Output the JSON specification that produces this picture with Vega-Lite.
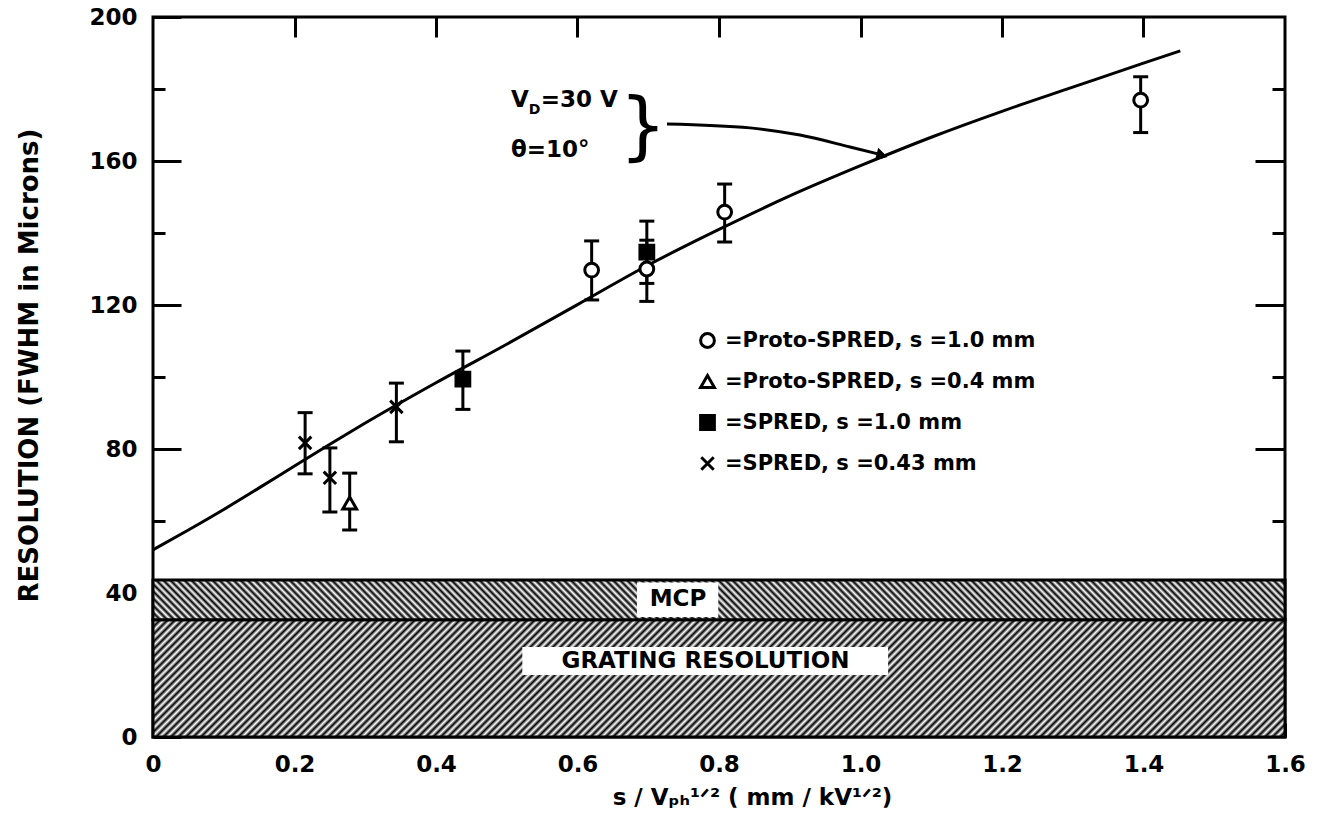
{
"$schema":"https://vega.github.io/schema/vega-lite/v6.json",
"width":1132,"height":720,
"autosize":{"type":"none"},
"padding":{"left":153,"top":17,"right":36,"bottom":94},
"background":"white",
"config":{
"view":{"stroke":"black","strokeWidth":3},
"font":"DejaVu Sans",
"axis":{"domain":false,"grid":false,"tickColor":"black","tickWidth":3,"labelFont":"DejaVu Sans","labelFontSize":23,"labelFontWeight":"bold","labelColor":"black","titleFont":"DejaVu Sans","titleFontWeight":"bold","titleColor":"black","titleFontSize":23,"labelFlush":false,"labelOverlap":false}
},
"datasets":{
"bands":[{"band":"GRATING RESOLUTION","lo":0,"hi":32.6},{"band":"MCP","lo":32.6,"hi":43.6}],
"labels":[{"label":"MCP","x":0.742,"y":38.2,"xa":0.684,"xb":0.799,"ya":33.3,"yb":42.9},{"label":"GRATING RESOLUTION","x":0.781,"y":21.1,"xa":0.522,"xb":1.039,"ya":17.2,"yb":25}],
"curve":[{"x":0,"y":52},{"x":0.05,"y":57.5},{"x":0.1,"y":63.2},{"x":0.15,"y":69.2},{"x":0.2,"y":75.3},{"x":0.25,"y":81.3},{"x":0.3,"y":87.2},{"x":0.4,"y":98.4},{"x":0.5,"y":109.1},{"x":0.6,"y":120.1},{"x":0.7,"y":131.1},{"x":0.8,"y":141},{"x":0.9,"y":150.3},{"x":1.0,"y":158.7},{"x":1.1,"y":166.6},{"x":1.2,"y":173.8},{"x":1.3,"y":180.5},{"x":1.4,"y":187.2},{"x":1.452,"y":190.6}],
"points":[
{"series":"Proto-SPRED, s =1.0 mm","x":0.62,"y":129.7,"lo":121.4,"hi":137.8},
{"series":"Proto-SPRED, s =1.0 mm","x":0.698,"y":130.0,"lo":121.0,"hi":138.0},
{"series":"Proto-SPRED, s =1.0 mm","x":0.808,"y":145.8,"lo":137.5,"hi":153.6},
{"series":"Proto-SPRED, s =1.0 mm","x":1.396,"y":176.9,"lo":167.9,"hi":183.4},
{"series":"Proto-SPRED, s =0.4 mm","x":0.278,"y":65.0,"lo":57.5,"hi":73.3},
{"series":"SPRED, s =1.0 mm","x":0.438,"y":99.4,"lo":91.0,"hi":107.2},
{"series":"SPRED, s =1.0 mm","x":0.698,"y":134.7,"lo":126.0,"hi":143.3},
{"series":"SPRED, s =0.43 mm","x":0.215,"y":81.7,"lo":73.1,"hi":90.1},
{"series":"SPRED, s =0.43 mm","x":0.25,"y":72.0,"lo":62.5,"hi":80.3},
{"series":"SPRED, s =0.43 mm","x":0.344,"y":91.7,"lo":82.0,"hi":98.3}],
"arrow":[{"x":0.7265,"y":170.3},{"x":0.8438,"y":169.2},{"x":0.9145,"y":167.2},{"x":0.9852,"y":163.9},{"x":1.026,"y":161.9}],
"arrowhead":[{"x":1.0304,"y":161.5}],
"notes":[{"role":"main","text":"V","x":0.506,"y":176.9},{"role":"sub","text":"D","x":0.531,"y":174.2},{"role":"main","text":"=30 V","x":0.548,"y":176.9},{"role":"main","text":"θ=10°","x":0.506,"y":163.1},{"role":"brace","text":"}","x":0.6926,"y":169}]
},
"resolve":{"axis":{"x":"independent","y":"independent"}},
"layer":[
{"data":{"name":"bands"},"transform":[{"filter":"datum.band === 'GRATING RESOLUTION'"}],
"mark":{"type":"rect","stroke":"black","strokeWidth":3,"fill":{"gradient":"linear","x1":0,"y1":0,"x2":1.0917,"y2":0.1129,"stops":[
{"offset":0.000,"color":"#000"},{"offset":0.003,"color":"#fff"},{"offset":0.006,"color":"#000"},{"offset":0.009,"color":"#fff"},{"offset":0.012,"color":"#000"},{"offset":0.015,"color":"#fff"},{"offset":0.018,"color":"#000"},{"offset":0.021,"color":"#fff"},{"offset":0.024,"color":"#000"},{"offset":0.027,"color":"#fff"},
{"offset":0.030,"color":"#000"},{"offset":0.033,"color":"#fff"},{"offset":0.036,"color":"#000"},{"offset":0.039,"color":"#fff"},{"offset":0.042,"color":"#000"},{"offset":0.045,"color":"#fff"},{"offset":0.048,"color":"#000"},{"offset":0.051,"color":"#fff"},{"offset":0.054,"color":"#000"},{"offset":0.057,"color":"#fff"},
{"offset":0.060,"color":"#000"},{"offset":0.063,"color":"#fff"},{"offset":0.066,"color":"#000"},{"offset":0.069,"color":"#fff"},{"offset":0.072,"color":"#000"},{"offset":0.075,"color":"#fff"},{"offset":0.078,"color":"#000"},{"offset":0.081,"color":"#fff"},{"offset":0.084,"color":"#000"},{"offset":0.087,"color":"#fff"},
{"offset":0.090,"color":"#000"},{"offset":0.093,"color":"#fff"},{"offset":0.096,"color":"#000"},{"offset":0.099,"color":"#fff"},{"offset":0.102,"color":"#000"},{"offset":0.105,"color":"#fff"},{"offset":0.108,"color":"#000"},{"offset":0.111,"color":"#fff"},{"offset":0.114,"color":"#000"},{"offset":0.117,"color":"#fff"},
{"offset":0.120,"color":"#000"},{"offset":0.123,"color":"#fff"},{"offset":0.126,"color":"#000"},{"offset":0.129,"color":"#fff"},{"offset":0.132,"color":"#000"},{"offset":0.135,"color":"#fff"},{"offset":0.138,"color":"#000"},{"offset":0.141,"color":"#fff"},{"offset":0.144,"color":"#000"},{"offset":0.147,"color":"#fff"},
{"offset":0.150,"color":"#000"},{"offset":0.153,"color":"#fff"},{"offset":0.156,"color":"#000"},{"offset":0.159,"color":"#fff"},{"offset":0.162,"color":"#000"},{"offset":0.165,"color":"#fff"},{"offset":0.168,"color":"#000"},{"offset":0.171,"color":"#fff"},{"offset":0.174,"color":"#000"},{"offset":0.177,"color":"#fff"},
{"offset":0.180,"color":"#000"},{"offset":0.183,"color":"#fff"},{"offset":0.186,"color":"#000"},{"offset":0.189,"color":"#fff"},{"offset":0.192,"color":"#000"},{"offset":0.195,"color":"#fff"},{"offset":0.198,"color":"#000"},{"offset":0.201,"color":"#fff"},{"offset":0.204,"color":"#000"},{"offset":0.207,"color":"#fff"},
{"offset":0.210,"color":"#000"},{"offset":0.213,"color":"#fff"},{"offset":0.216,"color":"#000"},{"offset":0.219,"color":"#fff"},{"offset":0.222,"color":"#000"},{"offset":0.225,"color":"#fff"},{"offset":0.228,"color":"#000"},{"offset":0.231,"color":"#fff"},{"offset":0.234,"color":"#000"},{"offset":0.237,"color":"#fff"},
{"offset":0.240,"color":"#000"},{"offset":0.243,"color":"#fff"},{"offset":0.246,"color":"#000"},{"offset":0.249,"color":"#fff"},{"offset":0.252,"color":"#000"},{"offset":0.255,"color":"#fff"},{"offset":0.258,"color":"#000"},{"offset":0.261,"color":"#fff"},{"offset":0.264,"color":"#000"},{"offset":0.267,"color":"#fff"},
{"offset":0.270,"color":"#000"},{"offset":0.273,"color":"#fff"},{"offset":0.276,"color":"#000"},{"offset":0.279,"color":"#fff"},{"offset":0.282,"color":"#000"},{"offset":0.285,"color":"#fff"},{"offset":0.288,"color":"#000"},{"offset":0.291,"color":"#fff"},{"offset":0.294,"color":"#000"},{"offset":0.297,"color":"#fff"},
{"offset":0.300,"color":"#000"},{"offset":0.303,"color":"#fff"},{"offset":0.306,"color":"#000"},{"offset":0.309,"color":"#fff"},{"offset":0.312,"color":"#000"},{"offset":0.315,"color":"#fff"},{"offset":0.318,"color":"#000"},{"offset":0.321,"color":"#fff"},{"offset":0.324,"color":"#000"},{"offset":0.327,"color":"#fff"},
{"offset":0.330,"color":"#000"},{"offset":0.333,"color":"#fff"},{"offset":0.336,"color":"#000"},{"offset":0.339,"color":"#fff"},{"offset":0.342,"color":"#000"},{"offset":0.345,"color":"#fff"},{"offset":0.348,"color":"#000"},{"offset":0.351,"color":"#fff"},{"offset":0.354,"color":"#000"},{"offset":0.357,"color":"#fff"},
{"offset":0.360,"color":"#000"},{"offset":0.363,"color":"#fff"},{"offset":0.366,"color":"#000"},{"offset":0.369,"color":"#fff"},{"offset":0.372,"color":"#000"},{"offset":0.375,"color":"#fff"},{"offset":0.378,"color":"#000"},{"offset":0.381,"color":"#fff"},{"offset":0.384,"color":"#000"},{"offset":0.387,"color":"#fff"},
{"offset":0.390,"color":"#000"},{"offset":0.393,"color":"#fff"},{"offset":0.396,"color":"#000"},{"offset":0.399,"color":"#fff"},{"offset":0.402,"color":"#000"},{"offset":0.405,"color":"#fff"},{"offset":0.408,"color":"#000"},{"offset":0.411,"color":"#fff"},{"offset":0.414,"color":"#000"},{"offset":0.417,"color":"#fff"},
{"offset":0.420,"color":"#000"},{"offset":0.423,"color":"#fff"},{"offset":0.426,"color":"#000"},{"offset":0.429,"color":"#fff"},{"offset":0.432,"color":"#000"},{"offset":0.435,"color":"#fff"},{"offset":0.438,"color":"#000"},{"offset":0.441,"color":"#fff"},{"offset":0.444,"color":"#000"},{"offset":0.447,"color":"#fff"},
{"offset":0.450,"color":"#000"},{"offset":0.453,"color":"#fff"},{"offset":0.456,"color":"#000"},{"offset":0.459,"color":"#fff"},{"offset":0.462,"color":"#000"},{"offset":0.465,"color":"#fff"},{"offset":0.468,"color":"#000"},{"offset":0.471,"color":"#fff"},{"offset":0.474,"color":"#000"},{"offset":0.477,"color":"#fff"},
{"offset":0.480,"color":"#000"},{"offset":0.483,"color":"#fff"},{"offset":0.486,"color":"#000"},{"offset":0.489,"color":"#fff"},{"offset":0.492,"color":"#000"},{"offset":0.495,"color":"#fff"},{"offset":0.498,"color":"#000"},{"offset":0.501,"color":"#fff"},{"offset":0.504,"color":"#000"},{"offset":0.507,"color":"#fff"},
{"offset":0.510,"color":"#000"},{"offset":0.513,"color":"#fff"},{"offset":0.516,"color":"#000"},{"offset":0.519,"color":"#fff"},{"offset":0.522,"color":"#000"},{"offset":0.525,"color":"#fff"},{"offset":0.528,"color":"#000"},{"offset":0.531,"color":"#fff"},{"offset":0.534,"color":"#000"},{"offset":0.537,"color":"#fff"},
{"offset":0.540,"color":"#000"},{"offset":0.543,"color":"#fff"},{"offset":0.546,"color":"#000"},{"offset":0.549,"color":"#fff"},{"offset":0.552,"color":"#000"},{"offset":0.555,"color":"#fff"},{"offset":0.558,"color":"#000"},{"offset":0.561,"color":"#fff"},{"offset":0.564,"color":"#000"},{"offset":0.567,"color":"#fff"},
{"offset":0.570,"color":"#000"},{"offset":0.573,"color":"#fff"},{"offset":0.576,"color":"#000"},{"offset":0.579,"color":"#fff"},{"offset":0.582,"color":"#000"},{"offset":0.585,"color":"#fff"},{"offset":0.588,"color":"#000"},{"offset":0.591,"color":"#fff"},{"offset":0.594,"color":"#000"},{"offset":0.597,"color":"#fff"},
{"offset":0.600,"color":"#000"},{"offset":0.603,"color":"#fff"},{"offset":0.606,"color":"#000"},{"offset":0.609,"color":"#fff"},{"offset":0.612,"color":"#000"},{"offset":0.615,"color":"#fff"},{"offset":0.618,"color":"#000"},{"offset":0.621,"color":"#fff"},{"offset":0.624,"color":"#000"},{"offset":0.627,"color":"#fff"},
{"offset":0.630,"color":"#000"},{"offset":0.633,"color":"#fff"},{"offset":0.636,"color":"#000"},{"offset":0.639,"color":"#fff"},{"offset":0.642,"color":"#000"},{"offset":0.645,"color":"#fff"},{"offset":0.648,"color":"#000"},{"offset":0.651,"color":"#fff"},{"offset":0.654,"color":"#000"},{"offset":0.657,"color":"#fff"},
{"offset":0.660,"color":"#000"},{"offset":0.663,"color":"#fff"},{"offset":0.666,"color":"#000"},{"offset":0.669,"color":"#fff"},{"offset":0.672,"color":"#000"},{"offset":0.675,"color":"#fff"},{"offset":0.678,"color":"#000"},{"offset":0.681,"color":"#fff"},{"offset":0.684,"color":"#000"},{"offset":0.687,"color":"#fff"},
{"offset":0.690,"color":"#000"},{"offset":0.693,"color":"#fff"},{"offset":0.696,"color":"#000"},{"offset":0.699,"color":"#fff"},{"offset":0.702,"color":"#000"},{"offset":0.705,"color":"#fff"},{"offset":0.708,"color":"#000"},{"offset":0.711,"color":"#fff"},{"offset":0.714,"color":"#000"},{"offset":0.717,"color":"#fff"},
{"offset":0.720,"color":"#000"},{"offset":0.723,"color":"#fff"},{"offset":0.726,"color":"#000"},{"offset":0.729,"color":"#fff"},{"offset":0.732,"color":"#000"},{"offset":0.735,"color":"#fff"},{"offset":0.738,"color":"#000"},{"offset":0.741,"color":"#fff"},{"offset":0.744,"color":"#000"},{"offset":0.747,"color":"#fff"},
{"offset":0.750,"color":"#000"},{"offset":0.753,"color":"#fff"},{"offset":0.756,"color":"#000"},{"offset":0.759,"color":"#fff"},{"offset":0.762,"color":"#000"},{"offset":0.765,"color":"#fff"},{"offset":0.768,"color":"#000"},{"offset":0.771,"color":"#fff"},{"offset":0.774,"color":"#000"},{"offset":0.777,"color":"#fff"},
{"offset":0.780,"color":"#000"},{"offset":0.783,"color":"#fff"},{"offset":0.786,"color":"#000"},{"offset":0.789,"color":"#fff"},{"offset":0.792,"color":"#000"},{"offset":0.795,"color":"#fff"},{"offset":0.798,"color":"#000"},{"offset":0.801,"color":"#fff"},{"offset":0.804,"color":"#000"},{"offset":0.807,"color":"#fff"},
{"offset":0.810,"color":"#000"},{"offset":0.813,"color":"#fff"},{"offset":0.816,"color":"#000"},{"offset":0.819,"color":"#fff"},{"offset":0.822,"color":"#000"},{"offset":0.825,"color":"#fff"},{"offset":0.828,"color":"#000"},{"offset":0.831,"color":"#fff"},{"offset":0.834,"color":"#000"},{"offset":0.837,"color":"#fff"},
{"offset":0.840,"color":"#000"},{"offset":0.843,"color":"#fff"},{"offset":0.846,"color":"#000"},{"offset":0.849,"color":"#fff"},{"offset":0.852,"color":"#000"},{"offset":0.855,"color":"#fff"},{"offset":0.858,"color":"#000"},{"offset":0.861,"color":"#fff"},{"offset":0.864,"color":"#000"},{"offset":0.867,"color":"#fff"},
{"offset":0.870,"color":"#000"},{"offset":0.873,"color":"#fff"},{"offset":0.876,"color":"#000"},{"offset":0.879,"color":"#fff"},{"offset":0.882,"color":"#000"},{"offset":0.885,"color":"#fff"},{"offset":0.888,"color":"#000"},{"offset":0.891,"color":"#fff"},{"offset":0.894,"color":"#000"},{"offset":0.897,"color":"#fff"},
{"offset":0.900,"color":"#000"},{"offset":0.903,"color":"#fff"},{"offset":0.906,"color":"#000"},{"offset":0.909,"color":"#fff"},{"offset":0.912,"color":"#000"},{"offset":0.915,"color":"#fff"},{"offset":0.918,"color":"#000"},{"offset":0.921,"color":"#fff"},{"offset":0.924,"color":"#000"},{"offset":0.927,"color":"#fff"},
{"offset":0.930,"color":"#000"},{"offset":0.933,"color":"#fff"},{"offset":0.936,"color":"#000"},{"offset":0.939,"color":"#fff"},{"offset":0.942,"color":"#000"},{"offset":0.945,"color":"#fff"},{"offset":0.948,"color":"#000"},{"offset":0.951,"color":"#fff"},{"offset":0.954,"color":"#000"},{"offset":0.957,"color":"#fff"},
{"offset":0.960,"color":"#000"},{"offset":0.963,"color":"#fff"},{"offset":0.966,"color":"#000"},{"offset":0.969,"color":"#fff"},{"offset":0.972,"color":"#000"},{"offset":0.975,"color":"#fff"},{"offset":0.978,"color":"#000"},{"offset":0.981,"color":"#fff"},{"offset":0.984,"color":"#000"},{"offset":0.987,"color":"#fff"},
{"offset":0.990,"color":"#000"},{"offset":0.993,"color":"#fff"},{"offset":0.996,"color":"#000"},{"offset":0.999,"color":"#fff"}]}},
"encoding":{
"x":{"datum":0,"type":"quantitative","scale":{"domain":[0,1.6],"nice":false,"zero":false},"axis":{"orient":"bottom","values":[0,0.2,0.4,0.6,0.8,1.0,1.2,1.4,1.6],"offset":-14,"tickSize":14,"labelPadding":16,"labelExpr":"datum.value === 0 ? '0' : format(datum.value, '.1f')","title":"s / Vₚₕ¹ᐟ² ( mm / kV¹ᐟ²)","titleX":599,"titleY":74,"titleBaseline":"middle","titleAnchor":"middle","titleAlign":"center"}},
"x2":{"datum":1.6},
"y":{"field":"lo","type":"quantitative","scale":{"domain":[0,200],"nice":false,"zero":false},"axis":{"orient":"left","values":[0,40,80,120,160,200],"offset":-28,"tickSize":28,"labelPadding":16,"title":"RESOLUTION (FWHM in Microns)","titleX":-152,"titleY":348,"titleBaseline":"middle","titleAngle":-90,"titleAlign":"center","titleFontSize":26}},
"y2":{"field":"hi"}}},
{"data":{"name":"bands"},"transform":[{"filter":"datum.band === 'MCP'"}],
"mark":{"type":"rect","stroke":"black","strokeWidth":3,"fill":{"gradient":"linear","x1":0,"y1":1,"x2":1.0333,"y2":0.9644,"stops":[
{"offset":0.000,"color":"#000"},{"offset":0.003,"color":"#fff"},{"offset":0.006,"color":"#000"},{"offset":0.009,"color":"#fff"},{"offset":0.012,"color":"#000"},{"offset":0.015,"color":"#fff"},{"offset":0.018,"color":"#000"},{"offset":0.021,"color":"#fff"},{"offset":0.024,"color":"#000"},{"offset":0.027,"color":"#fff"},
{"offset":0.030,"color":"#000"},{"offset":0.033,"color":"#fff"},{"offset":0.036,"color":"#000"},{"offset":0.039,"color":"#fff"},{"offset":0.042,"color":"#000"},{"offset":0.045,"color":"#fff"},{"offset":0.048,"color":"#000"},{"offset":0.051,"color":"#fff"},{"offset":0.054,"color":"#000"},{"offset":0.057,"color":"#fff"},
{"offset":0.060,"color":"#000"},{"offset":0.063,"color":"#fff"},{"offset":0.066,"color":"#000"},{"offset":0.069,"color":"#fff"},{"offset":0.072,"color":"#000"},{"offset":0.075,"color":"#fff"},{"offset":0.078,"color":"#000"},{"offset":0.081,"color":"#fff"},{"offset":0.084,"color":"#000"},{"offset":0.087,"color":"#fff"},
{"offset":0.090,"color":"#000"},{"offset":0.093,"color":"#fff"},{"offset":0.096,"color":"#000"},{"offset":0.099,"color":"#fff"},{"offset":0.102,"color":"#000"},{"offset":0.105,"color":"#fff"},{"offset":0.108,"color":"#000"},{"offset":0.111,"color":"#fff"},{"offset":0.114,"color":"#000"},{"offset":0.117,"color":"#fff"},
{"offset":0.120,"color":"#000"},{"offset":0.123,"color":"#fff"},{"offset":0.126,"color":"#000"},{"offset":0.129,"color":"#fff"},{"offset":0.132,"color":"#000"},{"offset":0.135,"color":"#fff"},{"offset":0.138,"color":"#000"},{"offset":0.141,"color":"#fff"},{"offset":0.144,"color":"#000"},{"offset":0.147,"color":"#fff"},
{"offset":0.150,"color":"#000"},{"offset":0.153,"color":"#fff"},{"offset":0.156,"color":"#000"},{"offset":0.159,"color":"#fff"},{"offset":0.162,"color":"#000"},{"offset":0.165,"color":"#fff"},{"offset":0.168,"color":"#000"},{"offset":0.171,"color":"#fff"},{"offset":0.174,"color":"#000"},{"offset":0.177,"color":"#fff"},
{"offset":0.180,"color":"#000"},{"offset":0.183,"color":"#fff"},{"offset":0.186,"color":"#000"},{"offset":0.189,"color":"#fff"},{"offset":0.192,"color":"#000"},{"offset":0.195,"color":"#fff"},{"offset":0.198,"color":"#000"},{"offset":0.201,"color":"#fff"},{"offset":0.204,"color":"#000"},{"offset":0.207,"color":"#fff"},
{"offset":0.210,"color":"#000"},{"offset":0.213,"color":"#fff"},{"offset":0.216,"color":"#000"},{"offset":0.219,"color":"#fff"},{"offset":0.222,"color":"#000"},{"offset":0.225,"color":"#fff"},{"offset":0.228,"color":"#000"},{"offset":0.231,"color":"#fff"},{"offset":0.234,"color":"#000"},{"offset":0.237,"color":"#fff"},
{"offset":0.240,"color":"#000"},{"offset":0.243,"color":"#fff"},{"offset":0.246,"color":"#000"},{"offset":0.249,"color":"#fff"},{"offset":0.252,"color":"#000"},{"offset":0.255,"color":"#fff"},{"offset":0.258,"color":"#000"},{"offset":0.261,"color":"#fff"},{"offset":0.264,"color":"#000"},{"offset":0.267,"color":"#fff"},
{"offset":0.270,"color":"#000"},{"offset":0.273,"color":"#fff"},{"offset":0.276,"color":"#000"},{"offset":0.279,"color":"#fff"},{"offset":0.282,"color":"#000"},{"offset":0.285,"color":"#fff"},{"offset":0.288,"color":"#000"},{"offset":0.291,"color":"#fff"},{"offset":0.294,"color":"#000"},{"offset":0.297,"color":"#fff"},
{"offset":0.300,"color":"#000"},{"offset":0.303,"color":"#fff"},{"offset":0.306,"color":"#000"},{"offset":0.309,"color":"#fff"},{"offset":0.312,"color":"#000"},{"offset":0.315,"color":"#fff"},{"offset":0.318,"color":"#000"},{"offset":0.321,"color":"#fff"},{"offset":0.324,"color":"#000"},{"offset":0.327,"color":"#fff"},
{"offset":0.330,"color":"#000"},{"offset":0.333,"color":"#fff"},{"offset":0.336,"color":"#000"},{"offset":0.339,"color":"#fff"},{"offset":0.342,"color":"#000"},{"offset":0.345,"color":"#fff"},{"offset":0.348,"color":"#000"},{"offset":0.351,"color":"#fff"},{"offset":0.354,"color":"#000"},{"offset":0.357,"color":"#fff"},
{"offset":0.360,"color":"#000"},{"offset":0.363,"color":"#fff"},{"offset":0.366,"color":"#000"},{"offset":0.369,"color":"#fff"},{"offset":0.372,"color":"#000"},{"offset":0.375,"color":"#fff"},{"offset":0.378,"color":"#000"},{"offset":0.381,"color":"#fff"},{"offset":0.384,"color":"#000"},{"offset":0.387,"color":"#fff"},
{"offset":0.390,"color":"#000"},{"offset":0.393,"color":"#fff"},{"offset":0.396,"color":"#000"},{"offset":0.399,"color":"#fff"},{"offset":0.402,"color":"#000"},{"offset":0.405,"color":"#fff"},{"offset":0.408,"color":"#000"},{"offset":0.411,"color":"#fff"},{"offset":0.414,"color":"#000"},{"offset":0.417,"color":"#fff"},
{"offset":0.420,"color":"#000"},{"offset":0.423,"color":"#fff"},{"offset":0.426,"color":"#000"},{"offset":0.429,"color":"#fff"},{"offset":0.432,"color":"#000"},{"offset":0.435,"color":"#fff"},{"offset":0.438,"color":"#000"},{"offset":0.441,"color":"#fff"},{"offset":0.444,"color":"#000"},{"offset":0.447,"color":"#fff"},
{"offset":0.450,"color":"#000"},{"offset":0.453,"color":"#fff"},{"offset":0.456,"color":"#000"},{"offset":0.459,"color":"#fff"},{"offset":0.462,"color":"#000"},{"offset":0.465,"color":"#fff"},{"offset":0.468,"color":"#000"},{"offset":0.471,"color":"#fff"},{"offset":0.474,"color":"#000"},{"offset":0.477,"color":"#fff"},
{"offset":0.480,"color":"#000"},{"offset":0.483,"color":"#fff"},{"offset":0.486,"color":"#000"},{"offset":0.489,"color":"#fff"},{"offset":0.492,"color":"#000"},{"offset":0.495,"color":"#fff"},{"offset":0.498,"color":"#000"},{"offset":0.501,"color":"#fff"},{"offset":0.504,"color":"#000"},{"offset":0.507,"color":"#fff"},
{"offset":0.510,"color":"#000"},{"offset":0.513,"color":"#fff"},{"offset":0.516,"color":"#000"},{"offset":0.519,"color":"#fff"},{"offset":0.522,"color":"#000"},{"offset":0.525,"color":"#fff"},{"offset":0.528,"color":"#000"},{"offset":0.531,"color":"#fff"},{"offset":0.534,"color":"#000"},{"offset":0.537,"color":"#fff"},
{"offset":0.540,"color":"#000"},{"offset":0.543,"color":"#fff"},{"offset":0.546,"color":"#000"},{"offset":0.549,"color":"#fff"},{"offset":0.552,"color":"#000"},{"offset":0.555,"color":"#fff"},{"offset":0.558,"color":"#000"},{"offset":0.561,"color":"#fff"},{"offset":0.564,"color":"#000"},{"offset":0.567,"color":"#fff"},
{"offset":0.570,"color":"#000"},{"offset":0.573,"color":"#fff"},{"offset":0.576,"color":"#000"},{"offset":0.579,"color":"#fff"},{"offset":0.582,"color":"#000"},{"offset":0.585,"color":"#fff"},{"offset":0.588,"color":"#000"},{"offset":0.591,"color":"#fff"},{"offset":0.594,"color":"#000"},{"offset":0.597,"color":"#fff"},
{"offset":0.600,"color":"#000"},{"offset":0.603,"color":"#fff"},{"offset":0.606,"color":"#000"},{"offset":0.609,"color":"#fff"},{"offset":0.612,"color":"#000"},{"offset":0.615,"color":"#fff"},{"offset":0.618,"color":"#000"},{"offset":0.621,"color":"#fff"},{"offset":0.624,"color":"#000"},{"offset":0.627,"color":"#fff"},
{"offset":0.630,"color":"#000"},{"offset":0.633,"color":"#fff"},{"offset":0.636,"color":"#000"},{"offset":0.639,"color":"#fff"},{"offset":0.642,"color":"#000"},{"offset":0.645,"color":"#fff"},{"offset":0.648,"color":"#000"},{"offset":0.651,"color":"#fff"},{"offset":0.654,"color":"#000"},{"offset":0.657,"color":"#fff"},
{"offset":0.660,"color":"#000"},{"offset":0.663,"color":"#fff"},{"offset":0.666,"color":"#000"},{"offset":0.669,"color":"#fff"},{"offset":0.672,"color":"#000"},{"offset":0.675,"color":"#fff"},{"offset":0.678,"color":"#000"},{"offset":0.681,"color":"#fff"},{"offset":0.684,"color":"#000"},{"offset":0.687,"color":"#fff"},
{"offset":0.690,"color":"#000"},{"offset":0.693,"color":"#fff"},{"offset":0.696,"color":"#000"},{"offset":0.699,"color":"#fff"},{"offset":0.702,"color":"#000"},{"offset":0.705,"color":"#fff"},{"offset":0.708,"color":"#000"},{"offset":0.711,"color":"#fff"},{"offset":0.714,"color":"#000"},{"offset":0.717,"color":"#fff"},
{"offset":0.720,"color":"#000"},{"offset":0.723,"color":"#fff"},{"offset":0.726,"color":"#000"},{"offset":0.729,"color":"#fff"},{"offset":0.732,"color":"#000"},{"offset":0.735,"color":"#fff"},{"offset":0.738,"color":"#000"},{"offset":0.741,"color":"#fff"},{"offset":0.744,"color":"#000"},{"offset":0.747,"color":"#fff"},
{"offset":0.750,"color":"#000"},{"offset":0.753,"color":"#fff"},{"offset":0.756,"color":"#000"},{"offset":0.759,"color":"#fff"},{"offset":0.762,"color":"#000"},{"offset":0.765,"color":"#fff"},{"offset":0.768,"color":"#000"},{"offset":0.771,"color":"#fff"},{"offset":0.774,"color":"#000"},{"offset":0.777,"color":"#fff"},
{"offset":0.780,"color":"#000"},{"offset":0.783,"color":"#fff"},{"offset":0.786,"color":"#000"},{"offset":0.789,"color":"#fff"},{"offset":0.792,"color":"#000"},{"offset":0.795,"color":"#fff"},{"offset":0.798,"color":"#000"},{"offset":0.801,"color":"#fff"},{"offset":0.804,"color":"#000"},{"offset":0.807,"color":"#fff"},
{"offset":0.810,"color":"#000"},{"offset":0.813,"color":"#fff"},{"offset":0.816,"color":"#000"},{"offset":0.819,"color":"#fff"},{"offset":0.822,"color":"#000"},{"offset":0.825,"color":"#fff"},{"offset":0.828,"color":"#000"},{"offset":0.831,"color":"#fff"},{"offset":0.834,"color":"#000"},{"offset":0.837,"color":"#fff"},
{"offset":0.840,"color":"#000"},{"offset":0.843,"color":"#fff"},{"offset":0.846,"color":"#000"},{"offset":0.849,"color":"#fff"},{"offset":0.852,"color":"#000"},{"offset":0.855,"color":"#fff"},{"offset":0.858,"color":"#000"},{"offset":0.861,"color":"#fff"},{"offset":0.864,"color":"#000"},{"offset":0.867,"color":"#fff"},
{"offset":0.870,"color":"#000"},{"offset":0.873,"color":"#fff"},{"offset":0.876,"color":"#000"},{"offset":0.879,"color":"#fff"},{"offset":0.882,"color":"#000"},{"offset":0.885,"color":"#fff"},{"offset":0.888,"color":"#000"},{"offset":0.891,"color":"#fff"},{"offset":0.894,"color":"#000"},{"offset":0.897,"color":"#fff"},
{"offset":0.900,"color":"#000"},{"offset":0.903,"color":"#fff"},{"offset":0.906,"color":"#000"},{"offset":0.909,"color":"#fff"},{"offset":0.912,"color":"#000"},{"offset":0.915,"color":"#fff"},{"offset":0.918,"color":"#000"},{"offset":0.921,"color":"#fff"},{"offset":0.924,"color":"#000"},{"offset":0.927,"color":"#fff"},
{"offset":0.930,"color":"#000"},{"offset":0.933,"color":"#fff"},{"offset":0.936,"color":"#000"},{"offset":0.939,"color":"#fff"},{"offset":0.942,"color":"#000"},{"offset":0.945,"color":"#fff"},{"offset":0.948,"color":"#000"},{"offset":0.951,"color":"#fff"},{"offset":0.954,"color":"#000"},{"offset":0.957,"color":"#fff"},
{"offset":0.960,"color":"#000"},{"offset":0.963,"color":"#fff"},{"offset":0.966,"color":"#000"},{"offset":0.969,"color":"#fff"},{"offset":0.972,"color":"#000"},{"offset":0.975,"color":"#fff"},{"offset":0.978,"color":"#000"},{"offset":0.981,"color":"#fff"},{"offset":0.984,"color":"#000"},{"offset":0.987,"color":"#fff"},
{"offset":0.990,"color":"#000"},{"offset":0.993,"color":"#fff"},{"offset":0.996,"color":"#000"},{"offset":0.999,"color":"#fff"}]}},
"encoding":{
"x":{"datum":0,"type":"quantitative","axis":{"orient":"top","values":[0.2,0.4,0.6,0.8,1.0,1.2,1.4],"offset":-20,"tickSize":20,"labels":false,"title":null}},
"x2":{"datum":1.6},
"y":{"field":"lo","type":"quantitative","axis":{"orient":"right","values":[40,80,120,160],"offset":-30,"tickSize":30,"labels":false,"title":null}},
"y2":{"field":"hi"}}},
{"data":{"name":"labels"},"mark":{"type":"rect","fill":"white","stroke":null},
"encoding":{"x":{"field":"xa","type":"quantitative","axis":null},"x2":{"field":"xb"},"y":{"field":"ya","type":"quantitative","axis":null},"y2":{"field":"yb"}}},
{"data":{"name":"labels"},"mark":{"type":"text","font":"DejaVu Sans","fontWeight":"bold","fontSize":23,"color":"black","align":"center","baseline":"middle"},
"encoding":{"x":{"field":"x","type":"quantitative","axis":null},"y":{"field":"y","type":"quantitative","axis":null},"text":{"field":"label"}}},
{"data":{"name":"curve"},"mark":{"type":"line","color":"black","strokeWidth":3,"interpolate":"monotone"},
"encoding":{"x":{"field":"x","type":"quantitative","axis":null},"y":{"field":"y","type":"quantitative","axis":{"orient":"left","values":[20,60,100,140,180],"offset":-12,"tickSize":12,"labels":false,"title":null}}}},
{"data":{"name":"points"},"mark":{"type":"rule","color":"black","strokeWidth":3},
"encoding":{"x":{"field":"x","type":"quantitative","axis":null},"y":{"field":"lo","type":"quantitative","axis":{"orient":"right","values":[20,60,100,140,180],"offset":-13,"tickSize":13,"labels":false,"title":null}},"y2":{"field":"hi"}}},
{"data":{"name":"points"},"transform":[{"fold":["lo","hi"],"as":["end","v"]}],"mark":{"type":"tick","orient":"horizontal","color":"black","size":15,"thickness":3,"opacity":1},
"encoding":{"x":{"field":"x","type":"quantitative","axis":null},"y":{"field":"v","type":"quantitative","axis":null}}},
{"data":{"name":"points"},"mark":{"type":"point","strokeWidth":3,"size":190,"opacity":1,"fillOpacity":1,"strokeOpacity":1},
"encoding":{"x":{"field":"x","type":"quantitative","axis":null},"y":{"field":"y","type":"quantitative","axis":null},
"shape":{"field":"series","type":"nominal","scale":{"domain":["Proto-SPRED, s =1.0 mm","Proto-SPRED, s =0.4 mm","SPRED, s =1.0 mm","SPRED, s =0.43 mm"],"range":["circle","triangle-up","square","M-0.9,-0.9L0.9,0.9M0.9,-0.9L-0.9,0.9"]},
"legend":{"title":null,"orient":"none","legendX":544,"legendY":313,"padding":0,"labelFont":"DejaVu Sans","labelFontSize":21,"labelFontWeight":"bold","labelColor":"black","labelExpr":"'=' + datum.label","labelOffset":7,"labelLimit":0,"rowPadding":15,"symbolSize":190,"symbolStrokeWidth":3,"symbolOpacity":1}},
"fill":{"field":"series","type":"nominal","scale":{"domain":["Proto-SPRED, s =1.0 mm","Proto-SPRED, s =0.4 mm","SPRED, s =1.0 mm","SPRED, s =0.43 mm"],"range":["white","white","black","transparent"]}},
"stroke":{"field":"series","type":"nominal","scale":{"domain":["Proto-SPRED, s =1.0 mm","Proto-SPRED, s =0.4 mm","SPRED, s =1.0 mm","SPRED, s =0.43 mm"],"range":["black","black","black","black"]}}}},
{"data":{"name":"arrow"},"mark":{"type":"line","color":"black","strokeWidth":3,"interpolate":"monotone"},
"encoding":{"x":{"field":"x","type":"quantitative","axis":null},"y":{"field":"y","type":"quantitative","axis":null}}},
{"data":{"name":"arrowhead"},"mark":{"type":"point","shape":"triangle-right","filled":true,"color":"black","size":170,"angle":15,"opacity":1},
"encoding":{"x":{"field":"x","type":"quantitative","axis":null},"y":{"field":"y","type":"quantitative","axis":null}}},
{"data":{"name":"notes"},"transform":[{"filter":"datum.role === 'main'"}],"mark":{"type":"text","font":"DejaVu Sans","fontWeight":"bold","fontSize":23,"color":"black","align":"left","baseline":"middle"},
"encoding":{"x":{"field":"x","type":"quantitative","axis":null},"y":{"field":"y","type":"quantitative","axis":null},"text":{"field":"text"}}},
{"data":{"name":"notes"},"transform":[{"filter":"datum.role === 'sub'"}],"mark":{"type":"text","font":"DejaVu Sans","fontWeight":"bold","fontSize":14,"color":"black","align":"left","baseline":"middle"},
"encoding":{"x":{"field":"x","type":"quantitative","axis":null},"y":{"field":"y","type":"quantitative","axis":null},"text":{"field":"text"}}},
{"data":{"name":"notes"},"transform":[{"filter":"datum.role === 'brace'"}],"mark":{"type":"text","font":"DejaVu Sans","fontWeight":"normal","fontSize":74,"color":"black","align":"center","baseline":"middle"},
"encoding":{"x":{"field":"x","type":"quantitative","axis":null},"y":{"field":"y","type":"quantitative","axis":null},"text":{"field":"text"}}}
]
}
